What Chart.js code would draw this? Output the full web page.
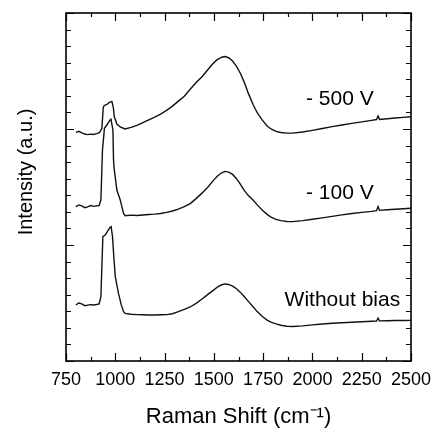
<!DOCTYPE html>
<html>
<head>
<meta charset="utf-8">
<script src="https://cdn.jsdelivr.net/npm/chart.js@4.4.1/dist/chart.umd.min.js"></script>
<style>
  html, body { margin: 0; padding: 0; background: #fff; }
  #wrap { width: 435px; height: 432px; position: relative; }
</style>
</head>
<body>
<div id="wrap"><canvas id="raman"></canvas></div>
<script>
// Raman shift (cm-1) and intensity (a.u., stacked offsets)
const shift500 = [800, 815, 830, 845, 860, 875, 890, 905, 920, 932, 939, 944, 958, 974, 983, 990, 995, 1008, 1025, 1050,
  1080, 1110, 1140, 1170, 1200, 1230, 1260, 1290, 1320, 1350, 1380, 1410, 1440, 1464, 1490, 1515, 1540, 1557, 1575, 1595,
  1615, 1635, 1655, 1675, 1700, 1720, 1745, 1770, 1790, 1815, 1840, 1870, 1900, 1950, 2000, 2050, 2100, 2150, 2200, 2250,
  2300, 2325, 2333, 2340, 2380, 2420, 2460, 2500];
const int500 = [13.80, 13.86, 13.76, 13.70, 13.66, 13.69, 13.67, 13.72, 13.78, 14.04, 15.30, 15.42, 15.49, 15.64, 15.66, 15.30, 14.74, 14.30, 14.12, 14.00,
  14.10, 14.22, 14.38, 14.55, 14.72, 14.90, 15.12, 15.38, 15.68, 15.98, 16.40, 16.80, 17.15, 17.50, 17.88, 18.17, 18.33, 18.37, 18.30, 18.10,
  17.78, 17.35, 16.80, 16.15, 15.45, 14.98, 14.55, 14.18, 14.00, 13.86, 13.79, 13.75, 13.75, 13.82, 13.92, 14.03, 14.14, 14.24, 14.34, 14.43,
  14.52, 14.57, 14.78, 14.58, 14.62, 14.66, 14.70, 14.74];

const shift100 = [800, 815, 830, 845, 860, 875, 890, 905, 918, 927, 935, 945, 959, 971, 978, 988, 991, 995, 1008, 1025,
  1042, 1050, 1080, 1110, 1140, 1170, 1200, 1230, 1260, 1290, 1320, 1350, 1380, 1410, 1440, 1470, 1500, 1520, 1540, 1557,
  1575, 1595, 1615, 1635, 1655, 1675, 1700, 1720, 1745, 1770, 1790, 1815, 1840, 1870, 1900, 1950, 2000, 2050, 2100, 2150,
  2200, 2250, 2300, 2325, 2333, 2340, 2380, 2420, 2460, 2500];
const int100 = [9.31, 9.42, 9.36, 9.25, 9.30, 9.38, 9.33, 9.36, 9.38, 9.72, 12.73, 14.04, 14.27, 14.50, 14.59, 13.94, 12.13, 11.53, 10.32, 9.72,
  8.91, 8.77, 8.80, 8.78, 8.81, 8.84, 8.86, 8.90, 8.97, 9.05, 9.16, 9.31, 9.50, 9.80, 10.13, 10.50, 10.93, 11.18, 11.36, 11.44,
  11.40, 11.26, 11.00, 10.66, 10.28, 9.98, 9.70, 9.42, 9.11, 8.85, 8.68, 8.55, 8.47, 8.42, 8.41, 8.47, 8.55, 8.64, 8.73, 8.82,
  8.90, 8.97, 9.03, 9.07, 9.32, 9.09, 9.13, 9.16, 9.19, 9.22];

const shift0 = [800, 815, 830, 845, 860, 875, 890, 905, 918, 927, 937, 949, 962, 974, 979, 986, 993, 1000, 1016, 1030,
  1042, 1050, 1080, 1110, 1140, 1170, 1200, 1230, 1260, 1290, 1320, 1350, 1380, 1410, 1440, 1470, 1500, 1520, 1540, 1557,
  1575, 1595, 1615, 1635, 1655, 1675, 1700, 1720, 1745, 1770, 1790, 1815, 1840, 1870, 1900, 1950, 2000, 2050, 2100, 2150,
  2200, 2250, 2300, 2325, 2333, 2340, 2380, 2420, 2460, 2500];
const int0 = [3.38, 3.50, 3.45, 3.34, 3.37, 3.40, 3.38, 3.41, 3.44, 3.88, 7.50, 7.60, 7.85, 8.07, 8.11, 7.50, 6.20, 5.09, 4.09, 3.40,
  2.98, 2.87, 2.82, 2.80, 2.79, 2.78, 2.78, 2.79, 2.80, 2.85, 2.98, 3.12, 3.26, 3.48, 3.74, 4.02, 4.29, 4.48, 4.60, 4.65,
  4.62, 4.52, 4.36, 4.14, 3.88, 3.60, 3.26, 2.98, 2.70, 2.47, 2.34, 2.24, 2.16, 2.10, 2.08, 2.12, 2.18, 2.23, 2.28, 2.31,
  2.34, 2.37, 2.40, 2.41, 2.58, 2.42, 2.43, 2.44, 2.44, 2.45];

const seriesNames = ["- 500 V", "- 100 V", "Without bias"];
const xTicks = [750, 1000, 1250, 1500, 1750, 2000, 2250, 2500];
const xMinorStep = 125;
const yRange = [0, 21];

const FONT = "'Liberation Sans', Arial, Helvetica, sans-serif";

function pts(xs, ys) {
  return xs.map((v, i) => ({ x: v, y: ys[i] }));
}

// frame, inward ticks, series labels and y title
const decorations = {
  id: "decorations",
  afterDatasetsDraw(chart) {
    const { ctx, chartArea: a, scales: { x, y } } = chart;
    ctx.save();
    ctx.strokeStyle = "#000";
    ctx.lineWidth = 1.2;
    ctx.beginPath();
    for (let v = xTicks[0]; v <= xTicks[xTicks.length - 1]; v += xMinorStep) {
      const px = Math.round(x.getPixelForValue(v)) + 0.5;
      const len = xTicks.includes(v) ? 8 : 4;
      ctx.moveTo(px, a.bottom); ctx.lineTo(px, a.bottom - len);
      ctx.moveTo(px, a.top); ctx.lineTo(px, a.top + len);
    }
    for (let v = yRange[0]; v <= yRange[1]; v += 1) {
      const py = Math.round(y.getPixelForValue(v)) + 0.5;
      const len = v % 7 === 0 ? 8 : 5;
      ctx.moveTo(a.left, py); ctx.lineTo(a.left + len, py);
      ctx.moveTo(a.right, py); ctx.lineTo(a.right - len, py);
    }
    ctx.stroke();
    ctx.lineWidth = 1.6;
    ctx.strokeRect(a.left, a.top, a.width, a.height);

    // series labels
    const spots = [[2139, 15.8], [2139, 10.1], [2152, 3.68]];
    ctx.fillStyle = "#000";
    ctx.font = "21px " + FONT;
    ctx.textAlign = "center";
    ctx.textBaseline = "middle";
    seriesNames.forEach((name, i) => {
      ctx.fillText(name, x.getPixelForValue(spots[i][0]), y.getPixelForValue(spots[i][1]));
    });

    // y axis title
    ctx.font = "20px " + FONT;
    ctx.translate(26, 172);
    ctx.rotate(-Math.PI / 2);
    ctx.fillText("Intensity (a.u.)", 0, 0);
    ctx.restore();
  }
};

const line = (data) => ({
  data,
  borderColor: "#111",
  borderWidth: 1.4,
  pointRadius: 0,
  tension: 0,
  fill: false
});

new Chart(document.getElementById("raman"), {
  type: "line",
  data: {
    datasets: [
      line(pts(shift500, int500)),
      line(pts(shift100, int100)),
      line(pts(shift0, int0))
    ]
  },
  options: {
    responsive: true,
    maintainAspectRatio: false,
    animation: false,
    layout: { padding: { left: 66, right: 24, top: 13, bottom: 0 } },
    plugins: { legend: { display: false }, tooltip: { enabled: false } },
    scales: {
      x: {
        type: "linear",
        min: xTicks[0],
        max: xTicks[xTicks.length - 1],
        afterBuildTicks: (s) => { s.ticks = xTicks.map(v => ({ value: v })); },
        afterFit: (s) => { s.height = 71; s.paddingLeft = 0; s.paddingRight = 0; },
        grid: { display: false, drawTicks: false },
        border: { display: false },
        ticks: {
          color: "#000",
          font: { family: FONT, size: 18 },
          padding: 8,
          maxRotation: 0,
          autoSkip: false,
          callback: (v) => String(v)
        },
        title: {
          display: true,
          text: "Raman Shift (cm\u207B\u00B9)",
          color: "#000",
          font: { family: FONT, size: 22 },
          padding: { top: 0, bottom: 2 }
        }
      },
      y: {
        display: false,
        min: yRange[0],
        max: yRange[1]
      }
    }
  },
  plugins: [decorations]
});
</script>
</body>
</html>
